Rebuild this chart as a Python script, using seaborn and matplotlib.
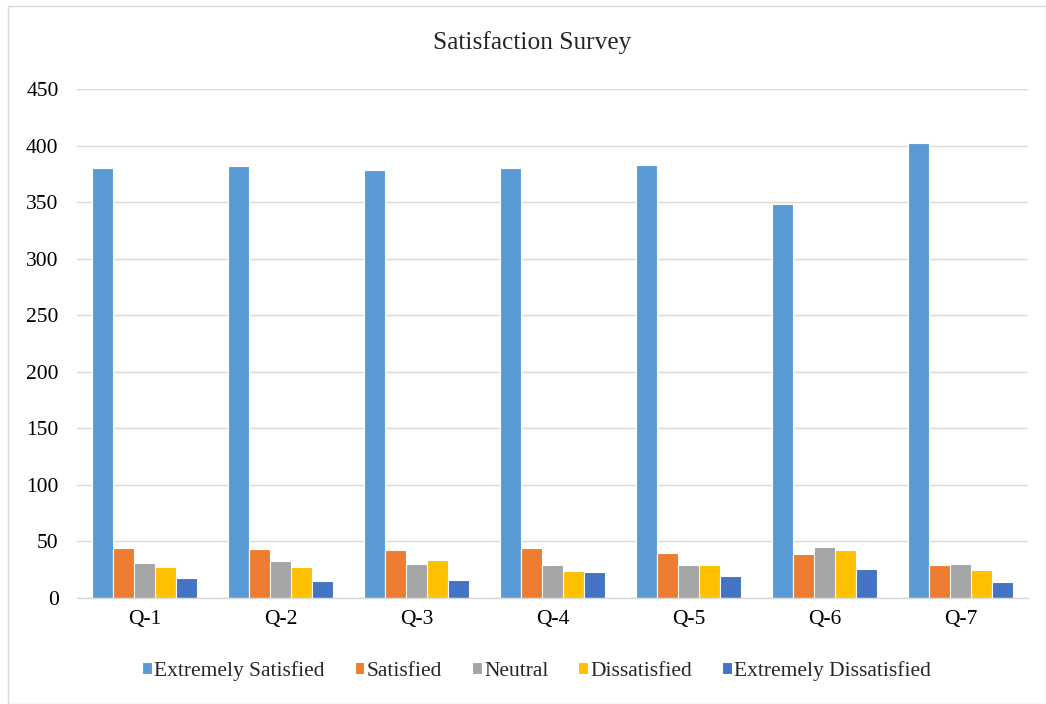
import pandas as pd
import matplotlib.pyplot as plt
import seaborn as sns
from matplotlib.patches import Rectangle

questions = ["Q-1", "Q-2", "Q-3", "Q-4", "Q-5", "Q-6", "Q-7"]
extremely_satisfied = [380, 382, 378, 380, 383, 348, 402]
satisfied = [44, 43, 42, 44, 40, 39, 29]
neutral = [31, 33, 30, 29, 29, 45, 30]
dissatisfied = [27, 27, 34, 24, 29, 42, 25]
extremely_dissatisfied = [18, 15, 16, 23, 19, 26, 14]

series = {
    "Extremely Satisfied": extremely_satisfied,
    "Satisfied": satisfied,
    "Neutral": neutral,
    "Dissatisfied": dissatisfied,
    "Extremely Dissatisfied": extremely_dissatisfied,
}
colors = ["#5B9BD5", "#ED7D31", "#A5A5A5", "#FFC000", "#4472C4"]

rows = []
for name, vals in series.items():
    for q, v in zip(questions, vals):
        rows.append({"question": q, "response": name, "count": v})
df = pd.DataFrame(rows)

sns.set_style("white")
plt.rcParams["font.family"] = ["Liberation Serif", "DejaVu Serif"]

fig = plt.figure(figsize=(10.46, 7.04), dpi=100)
ax = fig.add_axes([0.0733, 0.1506, 0.9098, 0.723])

sns.barplot(data=df, x="question", y="count", hue="response", palette=colors,
            saturation=1, width=0.77, edgecolor="white", linewidth=0.8, ax=ax)

ax.set_ylim(0, 450)
ax.set_yticks(range(0, 451, 50))
ax.set_xlim(-0.5, len(questions) - 0.5)
ax.yaxis.grid(True, color="#D9D9D9", linewidth=1)
ax.set_axisbelow(True)
for s in ["top", "right", "left"]:
    ax.spines[s].set_visible(False)
ax.spines["bottom"].set_color("#D9D9D9")
ax.spines["bottom"].set_linewidth(1)
ax.tick_params(axis="both", length=0, labelsize=15.5, colors="black")
ax.tick_params(axis="y", pad=13)
ax.tick_params(axis="x", pad=9)
ax.set_xlabel("")
ax.set_ylabel("")

fig.text(0.509, 0.939, "Satisfaction Survey", ha="center", va="center", fontsize=18.3)

handles, labels = ax.get_legend_handles_labels()
ax.legend_.remove()
fig.legend(handles, labels, loc="center", bbox_to_anchor=(0.513, 0.047), ncol=5,
           frameon=False, fontsize=15.5, handlelength=0.45, handleheight=0.45,
           handletextpad=0.1, columnspacing=1.4)

fig.patches.append(Rectangle((0.008, 0.0), 0.992, 0.991, transform=fig.transFigure,
                             fill=False, edgecolor="#D9D9D9", linewidth=1))

fig.savefig("out.png", dpi=100)
